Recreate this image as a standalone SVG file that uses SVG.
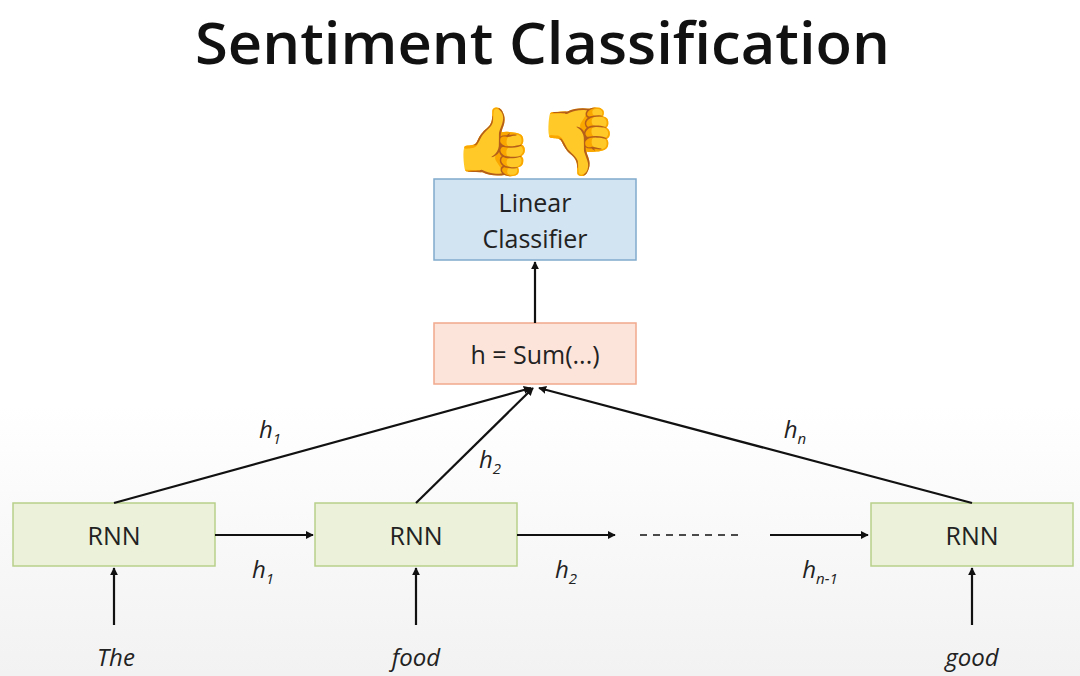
<svg xmlns="http://www.w3.org/2000/svg" width="1080" height="676" viewBox="0 0 1080 676">
<defs>
<marker id="ah" viewBox="0 0 10 10" refX="9" refY="5" markerWidth="8" markerHeight="8" markerUnits="userSpaceOnUse" orient="auto"><path d="M0,0 L10,5 L0,10 Z" fill="#111"/></marker>
<linearGradient id="bg" x1="0" y1="0" x2="0" y2="1"><stop offset="0.6" stop-color="#fff"/><stop offset="1" stop-color="#f2f2f2"/></linearGradient>
</defs>
<style>
text{font-family:"Open Sans","DejaVu Sans",sans-serif;fill:#222}
.l{font-size:25px;text-anchor:middle}
.i{font-size:24px;font-style:italic;text-anchor:middle}
.s{font-size:15px}
line{stroke:#111;stroke-width:2.2}
.rnn{fill:#ebf2d9;stroke:#b8cf8a;stroke-width:1.5}
.e{font-size:66px;text-anchor:middle;font-family:"Noto Color Emoji",sans-serif}
</style>
<rect width="1080" height="676" fill="url(#bg)"/>
<text x="195" y="64" textLength="695" lengthAdjust="spacingAndGlyphs" style="font-size:58px;font-weight:600;fill:#111">Sentiment Classification</text>
<g id="emoji"><text class="e" x="493" y="164">👍</text><text class="e" x="578" y="164">👎</text></g>
<g id="classifier"><rect x="434" y="179" width="202" height="81" fill="#d2e3f1" stroke="#80abcd" stroke-width="1.5"/><text class="l" x="535" y="212">Linear</text><text class="l" x="535" y="248">Classifier</text></g>
<g id="sum"><rect x="434" y="323" width="202" height="61" fill="#fde4da" stroke="#f0a88c" stroke-width="1.5"/><text class="l" x="535" y="364">h = Sum(...)</text></g>
<g id="rnn1"><rect class="rnn" x="13" y="503" width="202" height="63"/><text class="l" x="114" y="545">RNN</text></g>
<g id="rnn2"><rect class="rnn" x="315" y="503" width="202" height="63"/><text class="l" x="416" y="545">RNN</text></g>
<g id="rnn3"><rect class="rnn" x="871" y="503" width="202" height="63"/><text class="l" x="972" y="545">RNN</text></g>
<g id="inputs"><text class="i" x="116" y="666">The</text><text class="i" x="416" y="666">food</text><text class="i" x="972" y="666">good</text></g>
<g id="connectors">
<line x1="535" y1="323" x2="535" y2="262" marker-end="url(#ah)"/>
<line x1="114" y1="503" x2="531" y2="388" marker-end="url(#ah)"/>
<line x1="416" y1="503" x2="533" y2="388" marker-end="url(#ah)"/>
<line x1="972" y1="503" x2="539" y2="388" marker-end="url(#ah)"/>
<line x1="215" y1="535" x2="313" y2="535" marker-end="url(#ah)"/>
<line x1="517" y1="535" x2="615" y2="535" marker-end="url(#ah)"/>
<line x1="640" y1="535" x2="740" y2="535" stroke-dasharray="7,6" style="stroke-width:1.6"/>
<line x1="770" y1="535" x2="868" y2="535" marker-end="url(#ah)"/>
<line x1="114" y1="625" x2="114" y2="568" marker-end="url(#ah)"/>
<line x1="416" y1="625" x2="416" y2="568" marker-end="url(#ah)"/>
<line x1="972" y1="625" x2="972" y2="568" marker-end="url(#ah)"/>
</g>
<g id="labels">
<text class="i" x="270" y="438">h<tspan class="s" dy="6">1</tspan></text>
<text class="i" x="490" y="468">h<tspan class="s" dy="6">2</tspan></text>
<text class="i" x="795" y="438">h<tspan class="s" dy="6">n</tspan></text>
<text class="i" x="263" y="578">h<tspan class="s" dy="6">1</tspan></text>
<text class="i" x="566" y="578">h<tspan class="s" dy="6">2</tspan></text>
<text class="i" x="820" y="578">h<tspan class="s" dy="6">n-1</tspan></text>
</g>
</svg>
